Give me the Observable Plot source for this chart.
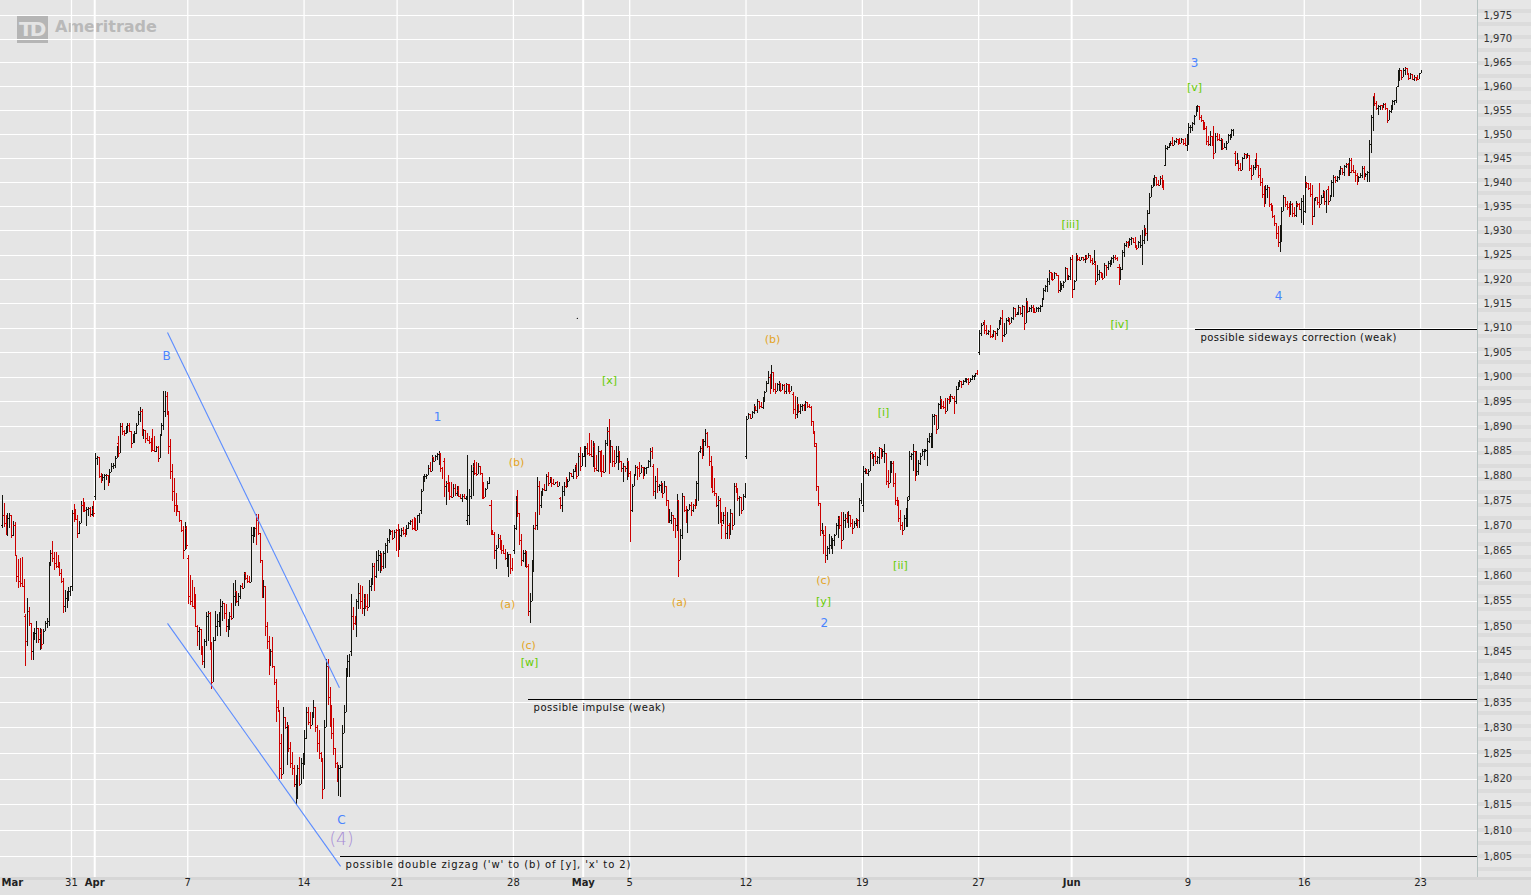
<!DOCTYPE html>
<html>
<head>
<meta charset="utf-8">
<script src="https://cdn.jsdelivr.net/npm/d3@7"></script>
<script src="https://cdn.jsdelivr.net/npm/@observablehq/plot@0.6"></script>
<style>
html,body{margin:0;padding:0;background:#e5e5e5;}
#wrap{position:relative;width:1531px;height:895px;overflow:hidden;background:#e5e5e5;font-family:"DejaVu Sans",Verdana,sans-serif;}
#panel{position:absolute;left:1477px;top:0;width:54px;height:877px;border-left:1px solid #b4c1c0;box-sizing:border-box;
  background:repeating-linear-gradient(to bottom,#e6e6e6 0px,#e6e6e6 9px,#dcdcdc 9px,#dcdcdc 13px);}
#xband{position:absolute;left:0;top:877px;width:1531px;height:18px;background:#e1e1e1;border-top:3px solid #d6d6d6;box-sizing:border-box;}
#chart{position:absolute;left:0;top:0;}
#logoBox{position:absolute;left:17px;top:16px;width:31px;height:27px;background:#b5b5b5;color:#e4e4e4;font:bold 20px "DejaVu Sans",sans-serif;letter-spacing:-3px;line-height:27px;text-indent:2px;}
#logoText{position:absolute;left:55px;top:17px;color:#b9b9b9;font:bold 16px "DejaVu Sans",sans-serif;line-height:20px;}
</style>
</head>
<body>
<div id="wrap">
  <div id="panel"></div>
  <div id="xband"></div>
  <div id="logoBox">TD</div>
  <div id="logoText">Ameritrade</div>
  <div id="chart"></div>
</div>
<script>
// ---------- data ----------
const PRICE_BASE = 1800;           // bar values below are offsets from this price
const BARS_PER_DAY = 13;           // 30-minute bars

const tradingDays = ["03-26","03-27","03-28","03-31","04-01","04-02","04-03","04-04","04-07","04-08","04-09","04-10","04-11",
 "04-14","04-15","04-16","04-17","04-21","04-22","04-23","04-24","04-25","04-28","04-29","04-30","05-01","05-02",
 "05-05","05-06","05-07","05-08","05-09","05-12","05-13","05-14","05-15","05-16","05-19","05-20","05-21","05-22","05-23",
 "05-27","05-28","05-29","05-30","06-02","06-03","06-04","06-05","06-06","06-09","06-10","06-11","06-12","06-13",
 "06-16","06-17","06-18","06-19","06-20","06-23"];

const dayOpen = [70,52,51,58,76,86.5,93,93,63.5,46,56,71,27,24,42,45,62,69,73,83,71,74,65,70,75.5,84,86.5,80.5,82,70,85,71,84,100,96.5,86,71.5,74,84.5,76,86,95,105,112,111,119.5,124,123,122.5,127,143.5,149,149.5,146,143.5,128,134,138.5,144.5,158,160,162.8];

// per day: [high, low, close] of each 30-minute bar
const dayBars = [
[[76.1,69.4,72],[74.5,69.6,70.5],[72.1,68.1,69],[72.4,67.9,71.5],[72.4,69.5,72],[70.6,67.4,68],[70.8,67.8,70],[70.6,63.8,64],[63.5,58.7,60],[63.3,57.5,59],[63.5,57.7,58.5],[63.6,57.9,58],[59.3,52.6,53]],
[[52.3,42.1,47],[55.6,46.1,53],[53.7,49.9,50.5],[50.1,43.3,45],[48.8,43.3,48],[49.6,47.3,48.5],[50.9,46.6,49.5],[49.6,46.6,47.5],[49.6,45.3,48.5],[49.4,45.4,46.5],[49.4,48.3,49],[50.9,49,50.5],[51.5,49.5,51]],
[[62.6,49.9,62],[65.1,62.3,64.5],[66.8,62.6,63.5],[64.7,61.1,62.5],[64.6,61.5,62],[64,61.5,61.7],[62.7,59.9,60.5],[61.3,58.6,59],[59.6,52.6,54],[57.1,52.8,55.5],[56.9,53.6,56],[57.8,54.9,57],[58,56,57.5]],
[[73.1,57,72.5],[74.3,70.7,71.5],[73.3,71.1,71.2],[72.1,67.5,68.5],[70.8,68.2,70.5],[74.8,70.6,74],[75.5,72.6,73.5],[74.6,72.6,73],[73.7,69.8,73.3],[73.6,71.9,73.5],[73.6,71.7,72.3],[73.9,71.9,73.2],[74.9,71.7,72.5]],
[[84.6,75.1,83.5],[83.9,82.1,83.7],[82.3,79.5,80],[80.6,78.6,79],[80.3,78.9,79.8],[80.3,77.1,80.1],[80.4,79.1,80.2],[79.7,77.9,78.5],[81.3,78.9,80.8],[82.6,80.8,82],[82.5,81.3,82.2],[83.9,81.6,83.5],[85.9,83.6,85.5]],
[[87.9,83.7,84.5],[90.6,85.4,90],[90.6,88.1,89],[89.3,87.9,88.5],[90.1,88.3,89.5],[90.7,88.5,90.2],[90.6,88.9,89],[88.3,85.6,86.5],[88.3,86.6,87.5],[88.9,86.6,88.5],[90.6,88.3,90.3],[93.1,91.1,92.5],[93.8,90.9,93]],
[[93.4,88,88.5],[89.4,87.3,89.2],[88.8,86.6,87.5],[88.6,87,87.2],[87.9,86.3,86.8],[87.6,84.7,85.5],[89.4,85,85.2],[87.9,84.8,85],[86,84.8,85.8],[85.9,82.7,83.5],[88.4,83.5,88],[90.6,88,90.3],[97.1,89.3,95]],
[[97.1,91.8,96],[96.8,92.3,93],[92.3,84.3,86],[87.4,79.3,81],[82.4,74.9,77],[79.5,72.6,74],[76.6,71.9,73],[74.1,72.6,72.8],[72.9,70.6,71],[70.6,68.6,69],[69.9,63.3,65],[70.6,65,69.5],[69.9,65.3,66]],
[[64.1,54.3,56],[60.2,54.1,55],[59.2,53.7,54],[57.8,53.3,53.5],[56.3,49.7,50],[50.2,46.1,49],[49.7,45.2,49.3],[46.1,44.2,45],[46.1,42.2,43],[47.5,41.6,47],[52.7,46.1,52],[53,47.1,52.5],[52.7,45.2,46]],
[[46.8,37.6,39],[47.8,39,47.3],[53,47.1,50],[52.4,48.1,51],[52.7,49.7,52],[55.3,48.1,54],[55,51,54.5],[54.6,51.4,52.5],[54.3,48.8,50],[51.4,47.8,51],[52.7,49.1,52],[54.6,51.2,51.5],[58.6,52.7,58]],
[[59.2,54,57],[56.9,54.6,55],[56.6,54,56],[58.2,55.3,58],[58.6,57.3,57.5],[60.8,58.9,60.5],[60.8,59.2,59.5],[60.2,58.6,59],[59.9,58.6,58.8],[69.7,59,68],[69.7,66.4,69],[69.7,67.7,69.5],[72.3,66.1,67]],
[[72.3,68,68.5],[68.4,62.5,63],[61.5,55.6,57],[59.2,55.6,58],[56.3,48.1,50],[50.7,45.5,47],[48.1,40.3,42],[45.5,43.9,45],[47.8,41.6,42],[39.6,38.3,39],[39.6,31.1,34],[35.4,33.1,33.5],[30.8,20,22]],
[[28.8,20,21],[34.1,25.2,32],[32.1,29.8,30],[31,22.6,30.5],[28.5,25.2,26],[27.2,22,23],[25.2,20.7,22],[22.6,18.4,19],[20.7,15.1,20],[22.6,16.1,22],[24.2,18.5,19],[24,19,23],[25,20,24]],
[[29.5,22.6,28],[34.1,27.8,33],[34.1,30.5,31],[33.1,29.8,30.5],[33.1,30.5,32.5],[35.4,31.8,34],[33.1,29.2,30],[30.5,25.2,27],[29.5,23.9,25],[25.2,23.3,24],[23.9,16.1,18],[31.4,18,30],[43.5,30,40]],
[[43.5,34.4,36],[38,30,33],[34.4,27.8,29],[31.8,24.6,26],[26,22,23],[23.3,19.3,21],[22.6,16.7,22],[22.6,16.4,22.3],[30.5,22,29],[34.4,29,33],[41.6,33,40],[44.2,40,43],[44.4,40,44]],
[[56.3,44,52],[53.7,49.1,50.5],[52,50.1,50.3],[55.3,47.8,55],[58.6,53.3,56.5],[58.2,53.3,55],[57.9,52.4,53.5],[56.3,52,55.5],[56.3,53.3,54],[56.3,53,53.8],[59.2,53.8,58],[59.5,56.9,59],[62.5,58.2,62]],
[[62.5,56.9,60],[64.8,59.5,63],[65,61,64],[64.8,60.5,64.2],[64.5,61,62],[64.8,61.3,64.5],[66.4,61.5,66],[67.4,64.4,67],[69.3,66.4,68.5],[69,68,68.8],[69,67,67.5],[69,68,68.7],[69.3,64.8,67]],
[[70.3,63.7,65],[69.2,65,68],[69.5,67.6,69],[69.7,68,68.5],[69.3,67.6,68],[70,68.7,69.5],[70.7,69.3,70.5],[71,70,70.8],[71.3,69,69.5],[71.7,69,69.2],[71.5,68.8,69],[72.1,69,72],[72.5,70.5,72.3]],
[[77.4,72.3,77],[80,77,79.5],[80.4,78.8,80],[80.3,79.4,80.2],[82.1,80.7,81.5],[82.8,80.7,81],[84.2,81.8,83.8],[83.8,82.8,83],[84.2,83.2,84],[84.5,83.2,84.3],[84.9,82.1,84.6],[83.5,80.8,81.5],[81.8,79.4,80]],
[[83.5,75.7,78],[79,74,78.5],[80.1,76.7,77],[78.7,75,76],[78.7,75.5,75.7],[78.4,76,77.5],[78.4,76,76.5],[78,76,77.2],[78,75.7,76],[76.3,75.3,75.5],[76.3,74.7,76],[76.3,75.3,75.6],[76,75,75.9]],
[[84.2,70,72],[77.4,70,76],[82.1,75.3,81],[82.5,76,82],[83.2,80.1,80.5],[82.8,80,80.3],[82.5,81.5,82],[82,80.1,80.5],[80.1,75.3,76],[78.7,75.3,75.8],[77.6,76.7,77.4],[79,77.4,78.5],[79.7,78.4,78.6]],
[[75,68,69],[69,68,68.2],[68.7,63.3,65],[66,61.3,65.5],[68.3,65.7,67.5],[68,65,66],[67,64.3,65],[66,64.3,64.5],[65.3,63,63.5],[64.7,61.7,64],[64.3,59.7,64.2],[64,60.3,61.5],[63.5,61,61.2]],
[[70,64.3,69.5],[76,69,75],[77.1,71.7,72.5],[72.5,66,67],[68.3,62,63],[65,62.7,64.5],[65,61.7,64.8],[63,61.5,62],[62.3,51.9,53],[56.5,50.5,55],[63,55,62.5],[70,60.7,69.5],[72.7,69,69.2]],
[[79.7,69,78],[79,72,74],[77,73.5,76.5],[77.5,76,77.3],[78.4,77,77.1],[80.4,77,80],[80.7,78,78.5],[79.7,78.7,79.5],[79.7,77.7,78.5],[79.3,78.2,78.3],[78.8,78.4,78.7],[79,77.7,78],[78.8,78,78.6]],
[[75.7,73.3,74],[78,72.7,77],[78.7,76,78],[79.7,77.5,77.8],[79.4,77.7,79],[80.7,79,80.5],[80.4,79.7,80],[81.4,79.4,81],[82.1,80.7,82],[82.5,79.4,80],[84.5,81,84],[85.8,81,82],[84.5,82,84.3]],
[[85.9,83.8,85.5],[85.9,81.8,85.6],[86.5,84.2,84.5],[88.5,84,84.3],[87.2,83.8,84],[86.9,81.8,86],[86.5,80.8,81.5],[84.2,81,81.2],[85.9,80.8,85],[83.8,80.8,81.5],[85.2,79.7,81],[84.2,80.5,80.7],[87.2,81.1,86.5]],
[[89.9,85.9,89],[91.4,80.4,84],[87.2,82.5,86],[85.9,81.8,83],[85.2,81.8,82.5],[85.9,83.5,84],[85.9,81.1,85],[84.2,82.5,83],[82.8,80.8,81.5],[82.5,78.7,82],[81.8,80.8,81.5],[83.5,79.1,83],[81.8,79.7,81]],
[[81,66.7,73],[78.4,72.7,78],[80.4,78,80],[82.1,80.8,81.8],[82,79.1,81.5],[82.8,79.7,80.5],[82.1,80.8,81.8],[81.8,79.4,80],[81.8,80.8,81.5],[81.8,80.4,81.7],[83.2,81.5,83],[85.5,81.8,85],[85.7,83.3,84.5]],
[[82.3,75.9,77],[80,75.3,79],[81.6,76.6,78],[78.3,77,78.2],[79,76.6,78.5],[78.6,75.6,76.5],[79,76.6,78],[77.3,73.9,75],[74.6,70.5,71],[73.2,70.5,71],[72.6,70.2,72],[71.9,68.9,71.5],[70.2,67.5,68]],
[[76.3,68.9,75],[75,59.8,63],[69.2,63.8,68],[76.6,67.2,76],[75.6,72.6,73],[73.9,70.5,71],[73.2,68.5,73],[74.2,73.2,74],[74.6,71.9,73],[74.2,72.6,74],[75.3,73.2,73.8],[79,74.6,78.5],[84.7,74.9,84]],
[[86,84.5,85.5],[87.4,83.3,84],[87.4,84,87],[89.4,86,88.5],[88.7,85.5,86],[86,82,83],[84,77.6,79],[82,76.6,77],[79.6,75.9,76.5],[76.6,73.6,74],[75.9,70.2,75],[75.5,70.5,71],[72.6,67.2,70]],
[[72.6,70.2,72],[73.6,67.2,68.5],[72.6,67.2,70],[70.5,67.2,68],[73.2,70.2,72.5],[71.9,69,70],[78.6,71.9,78],[78.6,76.6,77],[77.6,74.9,75.5],[76,71.9,75.8],[75.3,72.2,73],[76.3,75.3,76],[78.6,75.6,78.3]],
[[92.1,83.3,91.5],[92.7,91.4,92.5],[92.4,91.4,91.7],[93.1,92,92.8],[94.4,92.4,94],[94.1,93.1,93.3],[95.4,92.7,95],[94.8,93.4,94],[94.8,93.7,93.9],[95.8,93.4,95.5],[97.1,94.8,96.8],[99.1,96.8,98.8],[101.1,98.5,100.5]],
[[100.5,96.4,97.5],[102.3,97.5,101],[100.5,96.8,97.5],[98.8,96.4,97],[98.8,97.1,98.5],[99.1,97.1,98.8],[98.8,96.8,97.3],[98.5,97.4,98.3],[98.5,96.4,97],[98.8,96.4,98.5],[98.1,96.8,97.5],[98.5,96.4,97.2],[98.1,97.1,98]],
[[96.8,92.4,93.5],[96.1,91.4,92.5],[95.8,91.7,94.5],[94.1,92.7,93],[94.4,92.4,94],[94.4,93.1,94.2],[94.4,93.1,93.5],[95.1,93.1,94.8],[94.4,93.7,94],[94.4,93.7,93.8],[94.1,90,91],[90.4,88.4,89],[88.7,85.7,86.5]],
[[86.5,76.9,78],[78,73.9,74.5],[74.5,67.9,69],[70.5,68.2,69],[68.9,64.2,68],[69.9,62.5,64],[65.8,63.1,65.5],[68.2,64.2,66],[67.9,65.2,67],[67.5,64.2,67],[68.2,65.8,68],[70.5,68.2,70],[71.9,67.5,71]],
[[71.9,69.2,70],[72.6,65.2,67],[72.6,67.9,71],[72.2,69.5,71.5],[72.6,70.5,71],[72.9,69.5,72],[71.5,69.7,70.5],[71.2,68.2,69.5],[70.9,70.2,70.5],[71.5,69.9,71.2],[71.2,69.5,71],[75.6,69.5,75],[78.6,74.2,78]],
[[82,72.6,81],[81.6,80.3,81.3],[81,80.3,80.5],[81.3,80,81],[85,81,84.5],[84.7,83.3,83.5],[84.3,82,84],[84.7,82.3,83],[84,82.3,83.8],[85.7,82.3,85.5],[85.3,83.3,84],[85.3,83.7,85],[86.3,82.6,85.8]],
[[84.6,78.2,79],[81.2,77.5,78.5],[82.9,80.2,82],[82.9,80.5,82.5],[82.9,77.8,78.5],[80.5,74.1,75],[75.8,73.8,74.5],[75.1,70.7,71.5],[73.1,69.1,70],[70.7,68.1,69],[72.1,69.1,71.5],[73.4,69.7,72.5],[75.8,69.7,75]],
[[84.9,75.1,84],[84.6,83.2,84.3],[86.3,80.9,85],[84.9,78.9,80],[84.9,79.9,81],[83.2,80.2,82.5],[84.6,82.2,84],[85.3,84.3,85],[85.3,83.2,85.1],[85.3,84.8,85.2],[87.6,81.9,87],[88.6,86.6,88],[88.6,85.6,88.3]],
[[92.4,85.6,92],[92.4,90.3,92.2],[91,88.3,89.5],[94.7,90.7,94.5],[96.1,93.4,95.5],[94.7,93.4,94],[95,93.4,93.8],[95.7,92.4,93],[95.7,95,95.5],[96.1,94.4,94.8],[96.4,95,96],[96.1,95.4,95.6],[96.1,92.4,93]],
[[98.1,94.5,97.5],[99,97.3,98.8],[99.4,98,99.2],[99,97.7,98.5],[99.4,98.4,99.2],[99.7,99,99.6],[99.7,98.7,99.6],[99.7,98.4,99],[99.7,99,99.6],[100.4,99.4,100.2],[100.4,99.4,100.3],[100.8,100,100.7],[101.4,100.4,100.6]],
[[109.5,104.4,109],[110.9,108.2,110.5],[111.2,110.5,111],[111.6,108.8,109.5],[110.5,108.5,109],[109.5,108.5,109.3],[110.5,107.8,108.2],[108.8,107.8,108],[109.5,108.5,109.3],[109.2,107.5,109],[109.9,108.2,109.7],[111.6,110.2,111.3],[112.2,110.5,112]],
[[113.6,107.1,108.5],[111,108,108.8],[111.9,109.5,111.5],[112.2,111.2,112],[112,110.5,111],[112.2,111.2,112],[114.3,111.6,114],[113.9,112.2,112.8],[113.3,112.6,113.1],[114.6,112.6,114.3],[114.3,112.6,113],[114.6,112.2,114.5],[113.3,109.5,110]],
[[116,110.9,115.5],[114.5,113,113.5],[114.2,113.3,114],[114.6,113.3,114.3],[114.6,113,113.5],[114,113,113.2],[114.3,113.2,114],[114.3,113.3,114.1],[114.6,113.3,114.5],[116,114.3,115.8],[118.1,115.7,117.8],[118.8,117.4,118.5],[120.1,117.4,119.8]],
[[121.8,118.8,121.5],[121.5,119.8,121.2],[121.2,119.5,120],[121.5,120.1,121.2],[121.2,120.5,120.7],[120.5,117.1,117.8],[119.5,117.4,118],[119.1,117.7,118.8],[119.5,118.1,119.3],[122.5,120.1,122.2],[121.2,119.8,120.3],[120.8,119.8,120.6],[124.5,119.8,124]],
[[124.9,116,118],[119.8,117.7,119.5],[125.3,119.8,125],[124.9,123.6,124],[124.6,123.6,123.8],[124.6,123.9,124.4],[124.3,123.6,124],[124.9,123.2,124.6],[124.9,123.9,124.2],[125.3,124.2,125],[124.9,123.2,123.8],[124.2,122.9,123.2],[126,123.6,125.5]],
[[123.6,118.8,119.5],[122.9,120.5,121],[121.8,119.8,121.5],[121.5,120.1,120.5],[121.2,119.8,120.2],[123.2,121.2,122.8],[122.9,120.5,122.5],[123.6,121.8,123.3],[123.9,122.5,123.7],[124.6,122.9,124.3],[124.9,123.2,124.6],[124.9,123.9,124.2],[124.6,123.6,124]],
[[123,118.8,120],[122.5,119.8,122],[126,121.8,125.5],[127.3,124.5,127],[127.7,126.6,127.5],[127.7,126.3,126.8],[128.4,127.3,128.2],[128.7,127,128.5],[128.4,127.3,127.6],[128.7,126.3,127],[127,126,126.3],[127.7,126.6,127.5],[129,126.3,128.8]],
[[130,122.8,128],[131.2,127.1,130.5],[130.5,128.8,129.5],[134.3,127.8,133.5],[137.7,133.3,137],[139.4,137,139],[140.8,139.1,140.5],[141.5,139.1,141],[140.5,139.1,139.5],[140.5,139.1,139.3],[141.2,139.5,140.8],[141.5,138.8,139.5],[140.5,138.4,139]],
[[147.8,143.3,147],[147.4,146.7,147.2],[148.1,147,147.8],[148.5,147.4,148.2],[149.4,147.4,147.8],[148.8,147.8,148.5],[149.2,148.1,149],[148.8,147.8,148.3],[149.2,148.1,148.2],[149.2,148.5,149],[148.8,147.8,148.2],[149.2,147.4,147.8],[149.9,146.4,149.5]],
[[152.3,147.8,151.5],[151.9,150.2,151.5],[152.6,150.6,152.3],[154,151.9,153.8],[155.8,153.7,155.5],[156.1,154.7,155.8],[154.9,153,153.5],[154,152.6,153],[153,150.9,151.5],[152.6,150.9,151.2],[151.6,147.8,148.5],[149.5,147.4,148],[150.6,147.4,150]],
[[149.5,147.4,148],[151.6,144.7,146],[150.2,147.4,149.5],[150.2,148.5,149],[149.9,148.5,148.8],[149.2,146.7,149],[148.8,146.7,147],[148.1,147.1,147.3],[148.5,146.7,148.2],[149.9,148.8,149.7],[149.9,148.8,149.8],[151,149.2,150.8],[151,149.5,150.9]],
[[146.4,143.3,144],[146,143.8,144.5],[144.3,142.2,143],[144,142.2,142.5],[145.3,143.6,145],[146,144.7,145.8],[145.7,144.7,145],[146,145,145.7],[145.7,142.2,143],[143.6,140.5,141.5],[143.6,142.2,143.2],[144.7,142.5,144.3],[146,142.9,143.5]],
[[143.6,140.8,141.5],[142.9,139.1,140],[140.8,136.7,137.5],[139.1,134.9,135.5],[139.4,135.6,138.5],[139.4,136.7,139],[138.4,134.9,135.5],[135.6,133.9,134.5],[135.3,132.5,133],[133.2,130.8,131.5],[131.1,128.3,129.5],[130.8,126.6,127.5],[131.1,125.6,130.5]],
[[134.9,127.6,134],[137.4,134,137],[137,134.9,135.5],[136,134.2,134.8],[135.6,132.8,133.5],[136,133.2,135.5],[135.6,132.8,133.5],[134.9,132.8,133.2],[136,132.8,135.5],[135.6,134.9,135.4],[135.6,134.2,134.5],[136.7,131.5,136],[137.4,131.1,137]],
[[141.2,133.5,140],[140.1,138.8,139.8],[139.8,138.4,138.8],[139.8,137,137.5],[139.4,131.1,133],[136.7,132.8,136],[137,136,136.8],[136.7,135.3,135.8],[139.8,134.6,135.5],[137.4,135.6,137],[138.4,136.7,138],[138.1,135.3,136],[138.4,133.5,138]],
[[139.1,135.3,136],[137.4,136,137],[140.5,138.1,140],[141.5,137,141],[141.2,139.8,140.5],[141.2,140.1,141],[142.6,140.5,142.3],[143.3,141.5,143],[142.9,141.5,142],[143.6,141.2,143.3],[144,142.9,143.8],[144,141.2,141.8],[145,141.2,142]],
[[145,141.9,142.5],[143.6,141.9,142],[142.6,140.1,141.5],[141.8,139.4,140],[141.2,140.5,141],[141.9,140.8,141.5],[143.3,140.8,143],[143.3,140.5,141],[141.9,141.2,141.6],[142.2,140.1,142],[148.8,140.1,148],[154,146,153.5],[157.8,150.6,157]],
[[158.5,155.8,156.5],[156.8,155.1,155.5],[156.1,154,155.8],[156.1,155.1,156],[156.1,155.1,155.4],[156.5,155.4,156.3],[156.5,155.1,155.5],[155.4,152.3,153],[155.1,154,154.8],[156.1,154.4,155.8],[157.2,155.1,157],[157.2,156.1,157.1],[159.9,156.5,159.5]],
[[163.4,159.9,163],[163.8,161,163.5],[163.4,161.3,162],[163.8,162,163.5],[164.1,162.4,163.8],[163.8,162.4,162.8],[162.7,161.3,161.8],[162.7,161.6,162.5],[162.4,161.3,161.6],[162.4,161,162],[162,161,161.9],[162.4,161.3,161.5],[162.7,161.6,162.5]],
[[163.4,162.7,163.2]]
];

// price axis ticks
const yTicks = d3.range(1805, 1976, 5);

// date axis: [trading day, label, month?]
const dateTicks = [["03-31","31",false],["04-01","Apr",true],["04-07","7",false],["04-14","14",false],["04-21","21",false],
 ["04-28","28",false],["05-01","May",true],["05-05","5",false],["05-12","12",false],["05-19","19",false],["05-27","27",false],
 ["06-02","Jun",true],["06-09","9",false],["06-16","16",false],["06-23","23",false]];

// wave labels: text, position in trading days, price
const blueLabels   = [["B",7.085,1904.2],["C",14.61,1812.1],["1",18.74,1892.0],["2",35.37,1850.6],["3",51.28,1964.9],["4",54.89,1916.5]];
const orangeLabels = [["(b)",22.13,1882.7],["(a)",21.75,1854.3],["(c)",22.65,1846.2],["(a)",29.14,1854.7],["(b)",33.14,1907.7],["(c)",35.33,1859.1]];
const greenLabels  = [["[w]",22.69,1842.9],["[x]",26.13,1899.3],["[y]",35.33,1854.9],["[i]",37.91,1892.8],["[ii]",38.64,1862.1],
                      ["[iii]",45.95,1931.3],["[iv]",48.06,1910.7],["[v]",51.28,1959.8]];
const degreeLabels = [["(4)",14.61,1808.3]];

// drawn channel lines: [day1, price1, day2, price2]
const channelLines = [[7.128,1909.1,14.52,1837.9],[7.128,1850.6,14.57,1803.1]];
// notes: [start day, price, text, letter spacing]
const notes = [[51.32,1909.7,"possible sideways correction (weak)",0.45],
               [22.65,1835.6,"possible impulse (weak)",0.5],
               [14.57,1805.0,"possible double zigzag ('w' to (b) of [y], 'x' to 2)",0.9]];
const strayDot = [[24.75,1912.0]];

// ---------- build bar table ----------
const bars = [];
let prevClose = null;
dayBars.forEach((day, d) => {
  day.forEach(([h, l, c], j) => {
    const o = j === 0 ? dayOpen[d] : prevClose;
    bars.push({
      t: d + (j + 0.5) / BARS_PER_DAY,
      o: PRICE_BASE + o, c: PRICE_BASE + c,
      hi: PRICE_BASE + Math.max(h, o, c), lo: PRICE_BASE + Math.min(l, o, c),
      up: c >= o
    });
    prevClose = c;
  });
});
const upBars = bars.filter(b => b.up), downBars = bars.filter(b => !b.up);
const X_MAX = 63.448;
const TICK = 0.05;
const dayIndex = k => tradingDays.indexOf(k);
const tickRows = dateTicks.map(([k, label, month]) => ({d: dayIndex(k), label, month}));
const BLACK = "#151510", RED = "#cc0000";

const lab = a => a.map(([t, d, p]) => ({t, d, p}));

const chart = Plot.plot({
  width: 1531, height: 895,
  marginLeft: 0, marginRight: 54, marginTop: 0, marginBottom: 18,
  style: {background: "transparent", fontFamily: "DejaVu Sans, Verdana, sans-serif", fontSize: "10px", overflow: "visible"},
  x: {type: "linear", domain: [-0.0516, X_MAX], axis: null},
  y: {type: "log", domain: [1800.95, 1978.17], axis: null},
  marks: [
    Plot.ruleY(yTicks, {stroke: "#ffffff", strokeWidth: 1, shapeRendering: "crispEdges"}),
    Plot.ruleX(tickRows.filter(r => !r.month), {x: "d", stroke: "#ffffff", strokeWidth: 1.3}),
    Plot.ruleX(tickRows.filter(r => r.month), {x: "d", stroke: "#ffffff", strokeWidth: 2}),
    // bars
    Plot.ruleX(upBars, {x: "t", y1: "lo", y2: "hi", stroke: BLACK, strokeWidth: 1, shapeRendering: "crispEdges"}),
    Plot.ruleY(upBars, {y: "o", x1: b => b.t - TICK, x2: "t", stroke: BLACK, strokeWidth: 1, shapeRendering: "crispEdges"}),
    Plot.ruleY(upBars, {y: "c", x1: "t", x2: b => b.t + TICK, stroke: BLACK, strokeWidth: 1, shapeRendering: "crispEdges"}),
    Plot.ruleX(downBars, {x: "t", y1: "lo", y2: "hi", stroke: RED, strokeWidth: 1, shapeRendering: "crispEdges"}),
    Plot.ruleY(downBars, {y: "o", x1: b => b.t - TICK, x2: "t", stroke: RED, strokeWidth: 1, shapeRendering: "crispEdges"}),
    Plot.ruleY(downBars, {y: "c", x1: "t", x2: b => b.t + TICK, stroke: RED, strokeWidth: 1, shapeRendering: "crispEdges"}),
    // annotations
    Plot.link(channelLines, {x1: r => r[0], y1: r => r[1], x2: r => r[2], y2: r => r[3], stroke: "#5b8cff", strokeWidth: 1.1}),
    Plot.ruleY(notes, {y: r => r[1], x1: r => r[0], x2: X_MAX, stroke: "#000000", strokeWidth: 1, shapeRendering: "crispEdges"}),
    Plot.text(notes, {x: r => r[0], y: r => r[1], text: r => r[2], textAnchor: "start", dx: 5, dy: 8, fill: "#111111", fontSize: 10}),
    Plot.dot(strayDot, {x: r => r[0], y: r => r[1], r: 0.7, fill: "#222222"}),
    Plot.text(lab(blueLabels), {x: "d", y: "p", text: "t", fill: "#4a84ff", fontSize: 12}),
    Plot.text(lab(orangeLabels), {x: "d", y: "p", text: "t", fill: "#e3a424", fontSize: 11}),
    Plot.text(lab(greenLabels), {x: "d", y: "p", text: "t", fill: "#66cc00", fontSize: 11}),
    Plot.text(lab(degreeLabels), {x: "d", y: "p", text: "t", fill: "#a78cd6", fontSize: 17, fontWeight: 300}),
    // axes
    Plot.text(yTicks, {y: d => d, text: d3.format(","), frameAnchor: "right", textAnchor: "start", dx: 6, fill: "#333333", fontSize: 10}),
    Plot.text(tickRows.filter(r => !r.month), {x: "d", text: "label", frameAnchor: "bottom", dy: 8, fill: "#222222", fontSize: 10}),
    Plot.text(tickRows.filter(r => r.month), {x: "d", text: "label", frameAnchor: "bottom", dy: 8, fill: "#222222", fontSize: 10, fontWeight: "bold"}),
    Plot.text(["Mar"], {x: -0.0516, text: d => d, frameAnchor: "bottom", dy: 8, dx: 1, textAnchor: "start", fill: "#222222", fontSize: 10, fontWeight: "bold"})
  ]
});
// widen the note lettering like the reference
notes.forEach(([, , text, spacing]) => {
  d3.select(chart).selectAll("text")
    .filter(function () { return (this.textContent || "") === text; })
    .attr("letter-spacing", spacing)
    .style("letter-spacing", spacing + "px");
});
document.getElementById("chart").appendChild(chart);
</script>
</body>
</html>
